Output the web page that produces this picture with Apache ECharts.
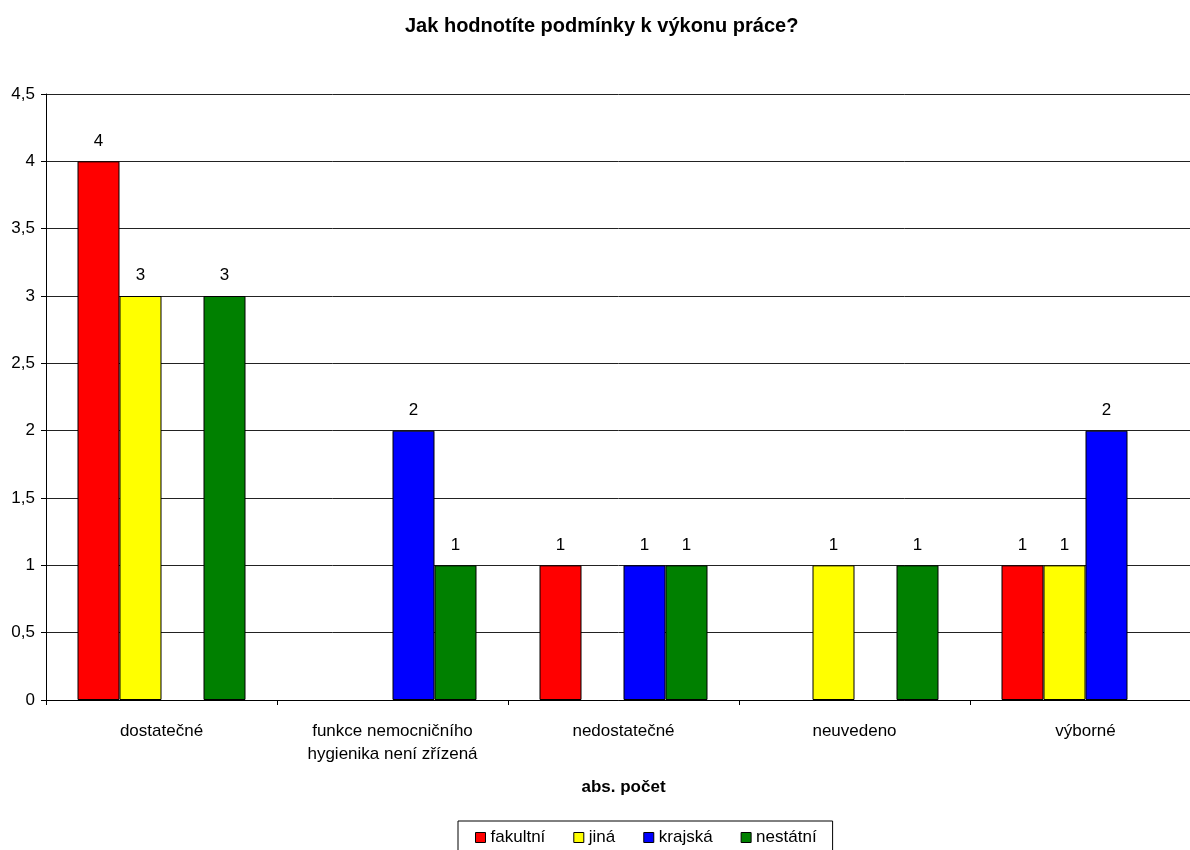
<!DOCTYPE html>
<html>
<head>
<meta charset="utf-8">
<title>Jak hodnotíte podmínky k výkonu práce?</title>
<script src="https://cdn.jsdelivr.net/npm/echarts@6/dist/echarts.min.js"></script>
<style>
  html, body { margin: 0; padding: 0; background: #fff; }
  #chart { width: 1190px; height: 850px; }
</style>
</head>
<body>
<div id="chart"></div>
<script type="text/javascript">
// kategorie a hodnoty (prázdné = null)
var categories = ['dostatečné', 'funkce nemocničního\nhygienika není zřízená', 'nedostatečné', 'neuvedeno', 'výborné'];
var fakultni = [4, null, 1, null, 1];
var jina     = [3, null, null, 1, 1];
var krajska  = [null, 2, 1, null, 2];
var nestatni = [3, 1, 1, 1, null];
var seriesNames = ['fakultní', 'jiná', 'krajská', 'nestátní'];
var seriesColors = ['#ff0000', '#ffff00', '#0000ff', '#008000'];

var font = 'Liberation Sans, Arial, sans-serif';

function makeSeries(name, data, color) {
    return {
        name: name,
        type: 'bar',
        data: data,
        barWidth: 42,
        barGap: '0%',
        itemStyle: { color: color, borderColor: '#000', borderWidth: 1 },
        label: {
            show: true,
            position: 'top',
            distance: 12,
            color: '#000',
            fontFamily: font,
            fontSize: 17
        }
    };
}

var myChart = echarts.init(document.getElementById('chart'));
myChart.setOption({
    animation: false,
    textStyle: { fontFamily: font },
    title: {
        text: 'Jak hodnotíte podmínky k výkonu práce?',
        left: 405,
        top: 16,
        padding: 0,
        textStyle: { fontSize: 20, fontWeight: 'bold', color: '#000', fontFamily: font }
    },
    // graf v originále přesahuje vpravo za okraj obrázku
    grid: { left: 46, top: 94, width: 1155, height: 606, outerBoundsMode: 'none' },
    legend: {
        data: seriesNames,
        left: 458,
        top: 821,
        padding: [8, 16, 8, 17],
        itemGap: 28,
        itemWidth: 10,
        itemHeight: 10,
        borderColor: '#000',
        borderWidth: 1,
        itemStyle: { borderColor: '#000', borderWidth: 1 },
        icon: 'rect',
        textStyle: { fontSize: 17, color: '#000', fontFamily: font }
    },
    xAxis: {
        type: 'category',
        data: categories,
        name: 'abs. počet',
        nameLocation: 'middle',
        nameGap: 79,
        nameTextStyle: { fontSize: 17, fontWeight: 'bold', color: '#000', fontFamily: font },
        axisLine: { lineStyle: { color: '#000', width: 1 } },
        axisTick: { show: true, length: 5, lineStyle: { color: '#000' } },
        axisLabel: { color: '#000', fontSize: 17, lineHeight: 23, margin: 20, interval: 0 }
    },
    yAxis: {
        type: 'value',
        min: 0,
        max: 4.5,
        interval: 0.5,
        axisLine: { show: true, lineStyle: { color: '#000', width: 1 } },
        axisTick: { show: true, length: 5, lineStyle: { color: '#000' } },
        axisLabel: {
            color: '#000',
            fontSize: 17,
            margin: 11,
            formatter: function (v) { return String(v).replace('.', ','); }
        },
        splitLine: { show: true, lineStyle: { color: '#222', width: 1 } }
    },
    series: [
        makeSeries(seriesNames[0], fakultni, seriesColors[0]),
        makeSeries(seriesNames[1], jina, seriesColors[1]),
        makeSeries(seriesNames[2], krajska, seriesColors[2]),
        makeSeries(seriesNames[3], nestatni, seriesColors[3])
    ]
});
</script>
</body>
</html>
